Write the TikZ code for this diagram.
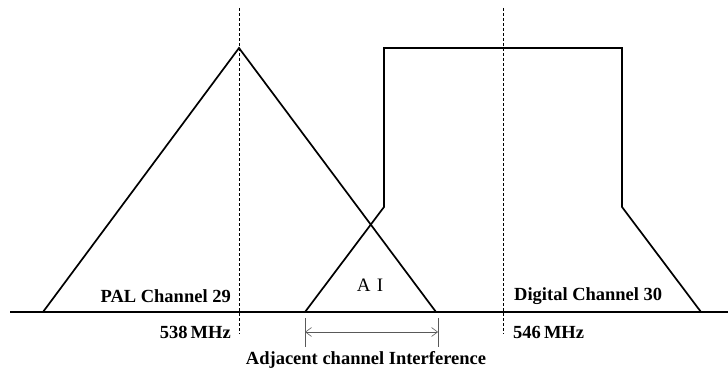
\documentclass[tikz,border=0pt]{standalone}
\usepackage{fontspec}
\setmainfont{Liberation Serif}
\usetikzlibrary{arrows.meta}
\begin{document}
\begin{tikzpicture}[x=1pt,y=-1pt,
  curve/.style={line width=1.7pt,line join=miter},
  guide/.style={line width=0.5pt,dash pattern=on 3pt off 2pt},
  lbl/.style={font=\bfseries\fontsize{18.5}{18.5}\selectfont,inner sep=0pt},
  tick/.style={line width=0.6pt,gray!70!black}]
\useasboundingbox (0,0) rectangle (728,374);
% axis
\coordinate (ax1) at (10,312);
\coordinate (ax2) at (728,312);
\draw[line width=1.7pt] (ax1) -- (ax2);
% guides
\coordinate (g1t) at (239,8);
\coordinate (g1b) at (239,334);
\coordinate (g2t) at (503,8);
\coordinate (g2b) at (503,334);
\draw[guide] (g1t) -- (g1b);
\draw[guide] (g2t) -- (g2b);
% PAL triangle
\coordinate (p1) at (43,312);
\coordinate (p2) at (239,48);
\coordinate (p3) at (436,312);
\draw[curve] (p1) -- (p2) -- (p3);
% Digital spectrum
\coordinate (d1) at (305,312);
\coordinate (d2) at (384,207);
\coordinate (d3) at (384,48);
\coordinate (d4) at (622,48);
\coordinate (d5) at (622,207);
\coordinate (d6) at (701,312);
\draw[curve] (d1) -- (d2) -- (d3) -- (d4) -- (d5) -- (d6);
% interference marker
\coordinate (t1a) at (305,318);
\coordinate (t1b) at (305,347);
\coordinate (t2a) at (438,318);
\coordinate (t2b) at (438,347);
\draw[tick] (t1a) -- (t1b);
\draw[tick] (t2a) -- (t2b);
\coordinate (a1) at (305,332);
\coordinate (a2) at (438,332);
\draw[tick,{Straight Barb[length=6pt,width=9pt]}-{Straight Barb[length=6pt,width=9pt]}] (a1) -- (a2);
% labels
\node[lbl,anchor=east] (pal) at (231,296) {PAL Channel 29};
\node[lbl,anchor=west] (dig) at (514,296) {Digital Channel 30};
\node[lbl,anchor=east] (f1) at (231,332) {538\,MHz};
\node[lbl,anchor=west] (f2) at (513,332) {546\,MHz};
\node[inner sep=0pt,font=\fontsize{19}{19}\selectfont] (ai) at (370,285) {A\,\,I};
\node[lbl] (aci) at (366,360) {Adjacent channel Interference};
\end{tikzpicture}
\end{document}
